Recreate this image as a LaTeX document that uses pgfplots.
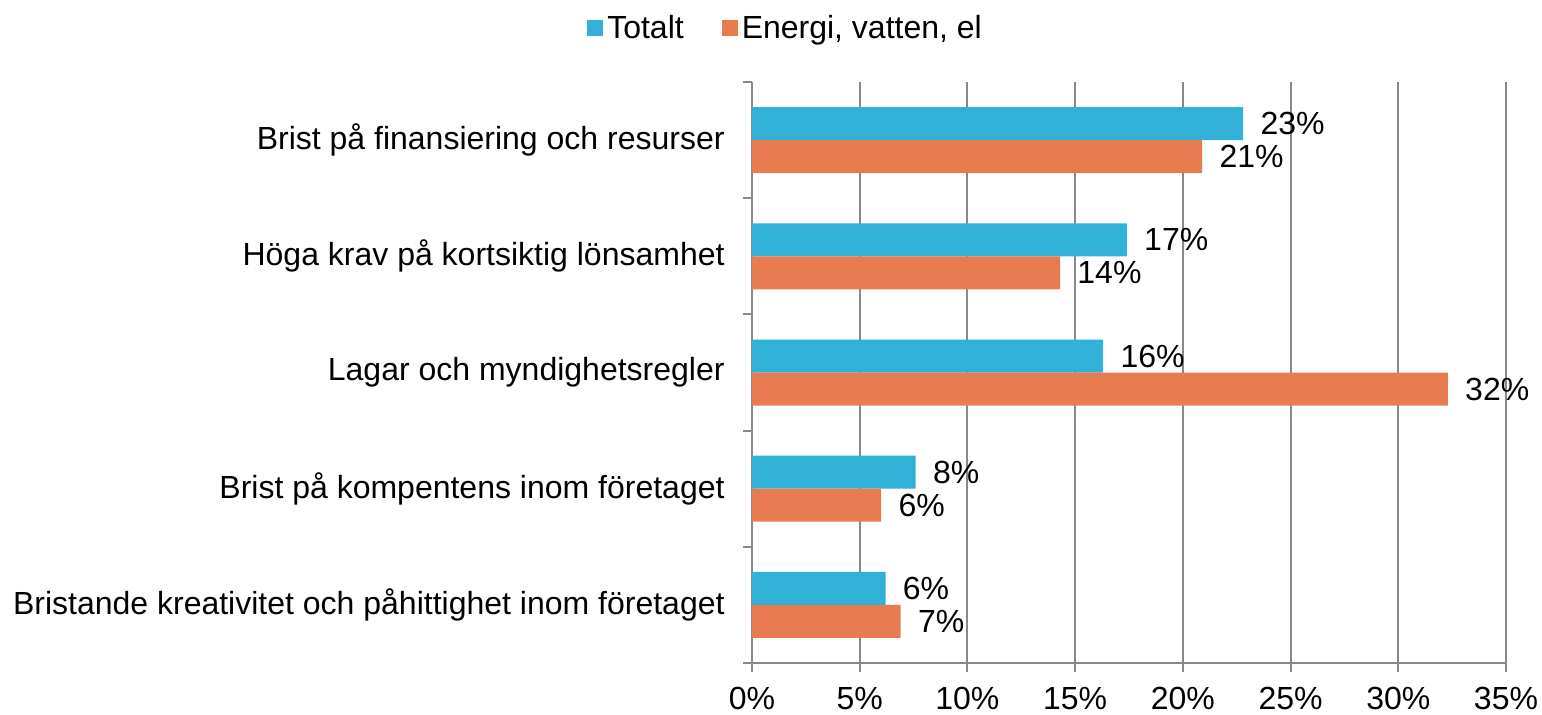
\documentclass[border=0pt]{standalone}
\usepackage{fontspec}
\setmainfont{Liberation Sans}
\usepackage{pgfplots}
\pgfplotsset{compat=1.18}
\definecolor{cblue}{HTML}{31B0D8}
\definecolor{corange}{HTML}{E87C50}
\definecolor{cgrid}{HTML}{898989}
\newcommand{\tf}{\fontsize{16}{19}\selectfont}
\begin{document}
\begin{tikzpicture}
\begin{axis}[name=ax, scale only axis, width=377pt, height=290.5pt,
 xbar, bar width=16.5pt,
 xmin=0, xmax=35, ymin=-0.5, ymax=4.5, y dir=reverse,
 axis x line*=bottom, axis y line*=left,
 axis line style={cgrid, line width=1pt},
 xtick={0,5,...,35}, xticklabel={\pgfmathprintnumber{\tick}\%},
 xmajorgrids, grid style={cgrid, line width=1pt},
 ytick={-0.5,0.5,...,4.5},
 yticklabels={Brist på finansiering och resurser, Höga krav på kortsiktig lönsamhet, Lagar och myndighetsregler, Brist på kompentens inom företaget, Bristande kreativitet och påhittighet inom företaget, {}},
 yticklabel style={yshift=-29.05pt, anchor=east, inner sep=0pt, xshift=-9pt},
 xticklabel style={anchor=north, inner sep=0pt, yshift=-7.3pt},
 tick align=outside, major tick length=4.5pt, tick style={cgrid, line width=1pt},
 ticklabel style={font=\tf},
 /pgf/number format/assume math mode=true,
 point meta=x,
 nodes near coords={\pgfmathprintnumber[fixed,precision=0]{\pgfplotspointmeta}\%},
 nodes near coords style={font=\tf, anchor=west, inner sep=0pt, xshift=8.5pt},
 legend style={at={(axis description cs:-0.219,1.093)}, anchor=west, draw=none, fill=none, inner sep=0pt, legend columns=2, font=\tf, /tikz/every even column/.append style={column sep=17pt}},
 legend image code/.code={\fill[#1] (0pt,-4pt) rectangle (8pt,4pt);},
]
\addplot[fill=cblue, draw=none, bar shift=8.25pt] coordinates {(22.8,0) (17.4,1) (16.3,2) (7.6,3) (6.2,4)};
\addlegendentry{Totalt}
\addplot[fill=corange, draw=none, bar shift=-8.25pt] coordinates {(20.9,0) (14.3,1) (32.3,2) (6.0,3) (6.9,4)};
\addlegendentry{Energi, vatten, el}
\end{axis}
\pgfresetboundingbox
\path[use as bounding box] (ax.south west) ++(-376pt,-25.5pt) rectangle ++(771pt,357pt);
\end{tikzpicture}
\end{document}
